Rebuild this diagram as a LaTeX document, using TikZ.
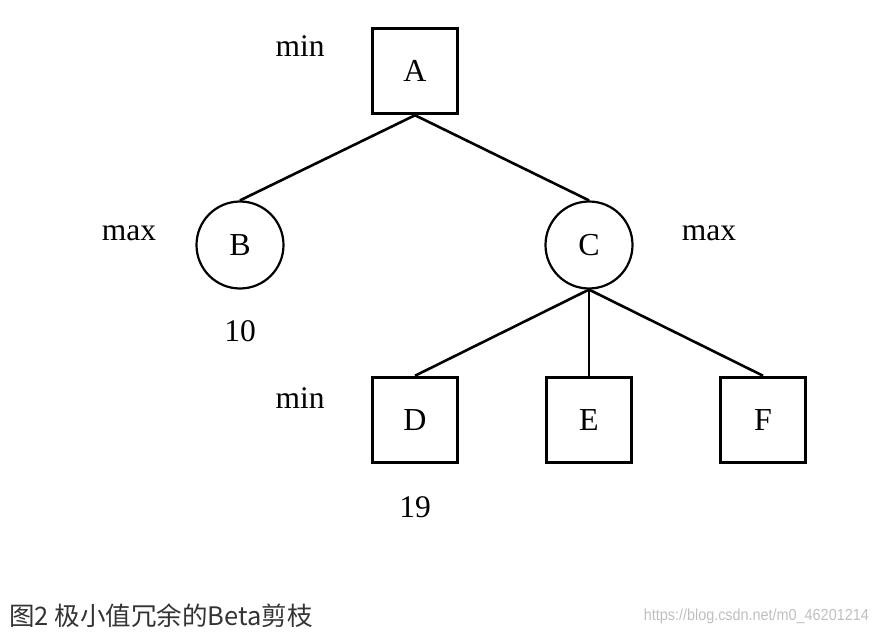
\documentclass[tikz,border=0pt]{standalone}
\usepackage{fontspec}
\setmainfont{Liberation Serif}
\newfontfamily\cjkfont{Noto Sans CJK SC}
\newfontfamily\wmfont{Liberation Sans}
\begin{document}
\begin{tikzpicture}[x=1pt,y=-1pt,
  sq/.style={draw, line width=3.5pt, minimum size=85pt, inner sep=0pt, font=\fontsize{32}{34}\selectfont},
  circ/.style={draw, circle, line width=2.2pt, minimum size=87pt, inner sep=0pt, font=\fontsize{32}{34}\selectfont},
  edge/.style={line width=2.6pt},
  lab/.style={font=\fontsize{31.5}{33}\selectfont, inner sep=0pt}]
\useasboundingbox (0,0) rectangle (878,639);
\node[sq] (A) at (415,71) {A};
\node[circ] (B) at (240,245) {B};
\node[circ] (C) at (589,245) {C};
\node[sq] (D) at (415,420) {D};
\node[sq] (E) at (589,420) {E};
\node[sq] (F) at (763,420) {F};
\draw[edge] (A.south) -- (B.north);
\draw[edge] (A.south) -- (C.north);
\draw[edge] (C.south) -- (D.north);
\draw[edge] (C.south) -- (E.north);
\draw[edge] (C.south) -- (F.north);
\node[lab] (l1) at (300,46) {min};
\node[lab] (l2) at (129,233) {max};
\node[lab] (l3) at (709,233) {max};
\node[lab] (l4) at (240,331) {10};
\node[lab] (l5) at (300,398) {min};
\node[lab] (l6) at (415,507) {19};
\node[anchor=west, inner sep=0pt, text=black!80, font=\cjkfont\fontsize{25.5}{27}\selectfont] (cap) at (9,616) {图2 极小值冗余的Beta剪枝};
\node[anchor=east, inner sep=0pt, text=black!25, font=\wmfont\fontsize{16}{18}\selectfont] (wm) at (869,616) {\scalebox{0.9}[1]{https://blog.csdn.net/m0\_46201214}};
\end{tikzpicture}
\end{document}
